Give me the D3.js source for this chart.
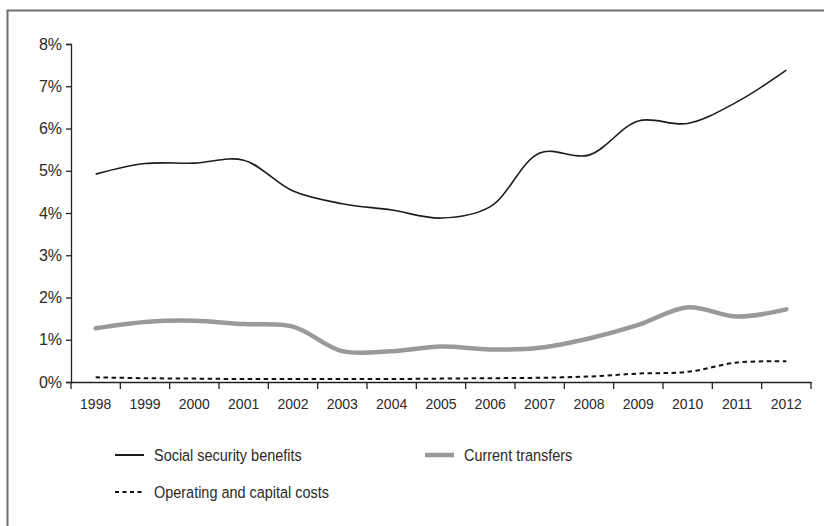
<!DOCTYPE html>
<html>
<head>
<meta charset="utf-8">
<script src="https://cdn.jsdelivr.net/npm/d3@7"></script>
<style>
  html, body { margin: 0; padding: 0; background: #fff; }
  svg { display: block; }
</style>
</head>
<body>
<svg id="chart" width="824" height="526"></svg>
<script>
// Spending as a share of GDP, 1998–2012
const years = [1998, 1999, 2000, 2001, 2002, 2003, 2004, 2005, 2006, 2007, 2008, 2009, 2010, 2011, 2012];
const socialSecurity = [4.92, 5.17, 5.18, 5.25, 4.52, 4.22, 4.07, 3.88, 4.15, 5.42, 5.37, 6.18, 6.12, 6.63, 7.38];
const currentTransfers = [1.27, 1.42, 1.45, 1.37, 1.31, 0.73, 0.73, 0.84, 0.77, 0.81, 1.03, 1.35, 1.77, 1.55, 1.72];
const operatingCapital = [0.11, 0.09, 0.08, 0.07, 0.07, 0.07, 0.07, 0.08, 0.09, 0.10, 0.13, 0.20, 0.24, 0.46, 0.49];
const yTicks = [0, 1, 2, 3, 4, 5, 6, 7, 8];
const seriesNames = ["Social security benefits", "Current transfers", "Operating and capital costs"];

const svg = d3.select("#chart");
const font = "'Liberation Sans', Arial, sans-serif";
const textColor = "#2a2a2a";

// frame around the figure
svg.append("rect")
  .attr("x", 7.5).attr("y", 10.5)
  .attr("width", 830).attr("height", 540)
  .attr("fill", "none").attr("stroke", "#6e6e6e").attr("stroke-width", 2);

const x = d3.scaleBand().domain(years).range([71, 811]);
const y = d3.scaleLinear().domain([0, 8]).range([382, 44]);

// y axis
const yAxis = svg.append("g")
  .attr("transform", "translate(71,0)")
  .call(d3.axisLeft(y).tickValues(yTicks).tickSize(5).tickPadding(4).tickFormat(d => d + "%"));
yAxis.selectAll("path, line").attr("stroke", "#222").attr("stroke-width", 1.3);
yAxis.selectAll("text").attr("font-family", font).attr("font-size", 16).attr("fill", textColor);

// x axis: labels centred in each year, ticks on the year boundaries
const xAxis = svg.append("g")
  .attr("transform", "translate(0,382)")
  .call(d3.axisBottom(x).tickSize(0).tickPadding(17).tickSizeOuter(0));
xAxis.select(".domain").attr("stroke", "#222").attr("stroke-width", 1.3);
xAxis.selectAll("text").attr("font-family", font).attr("font-size", 14).attr("fill", textColor);

const boundaries = years.map(d => x(d)).concat([x.range()[1]]);
xAxis.selectAll(".boundary")
  .data(boundaries)
  .join("line")
  .attr("class", "boundary")
  .attr("x1", d => d).attr("x2", d => d)
  .attr("y1", 0).attr("y2", 7)
  .attr("stroke", "#222").attr("stroke-width", 1.3);

const cx = i => x(years[i]) + x.bandwidth() / 2;
const line = d3.line()
  .x((d, i) => cx(i))
  .y(d => y(d))
  .curve(d3.curveCatmullRom.alpha(0.5));

svg.append("path")
  .datum(operatingCapital)
  .attr("d", line)
  .attr("fill", "none").attr("stroke", "#111").attr("stroke-width", 2)
  .attr("stroke-dasharray", "4.5,3.5");

svg.append("path")
  .datum(currentTransfers)
  .attr("d", line)
  .attr("fill", "none").attr("stroke", "#999").attr("stroke-width", 4.5)
  .attr("stroke-linecap", "round");

svg.append("path")
  .datum(socialSecurity)
  .attr("d", line)
  .attr("fill", "none").attr("stroke", "#1c1c1c").attr("stroke-width", 1.6);

// legend
const legendItems = [
  { name: seriesNames[0], x: 115, y: 455, stroke: "#1c1c1c", width: 2, dash: null },
  { name: seriesNames[1], x: 425, y: 455, stroke: "#999", width: 4.5, dash: null },
  { name: seriesNames[2], x: 115, y: 492, stroke: "#111", width: 2, dash: "4,3.5" }
];
const legend = svg.append("g");
const items = legend.selectAll("g").data(legendItems).join("g")
  .attr("transform", d => `translate(${d.x},${d.y})`);
items.append("line")
  .attr("x1", 0).attr("x2", 29).attr("y1", 0).attr("y2", 0)
  .attr("stroke", d => d.stroke).attr("stroke-width", d => d.width)
  .attr("stroke-dasharray", d => d.dash);
// condensed lettering for the legend labels
items.append("text")
  .attr("transform", "translate(39,0) scale(0.85,1)")
  .attr("dy", "0.35em")
  .attr("font-family", font).attr("font-size", 17).attr("fill", textColor)
  .text(d => d.name);
</script>
</body>
</html>
